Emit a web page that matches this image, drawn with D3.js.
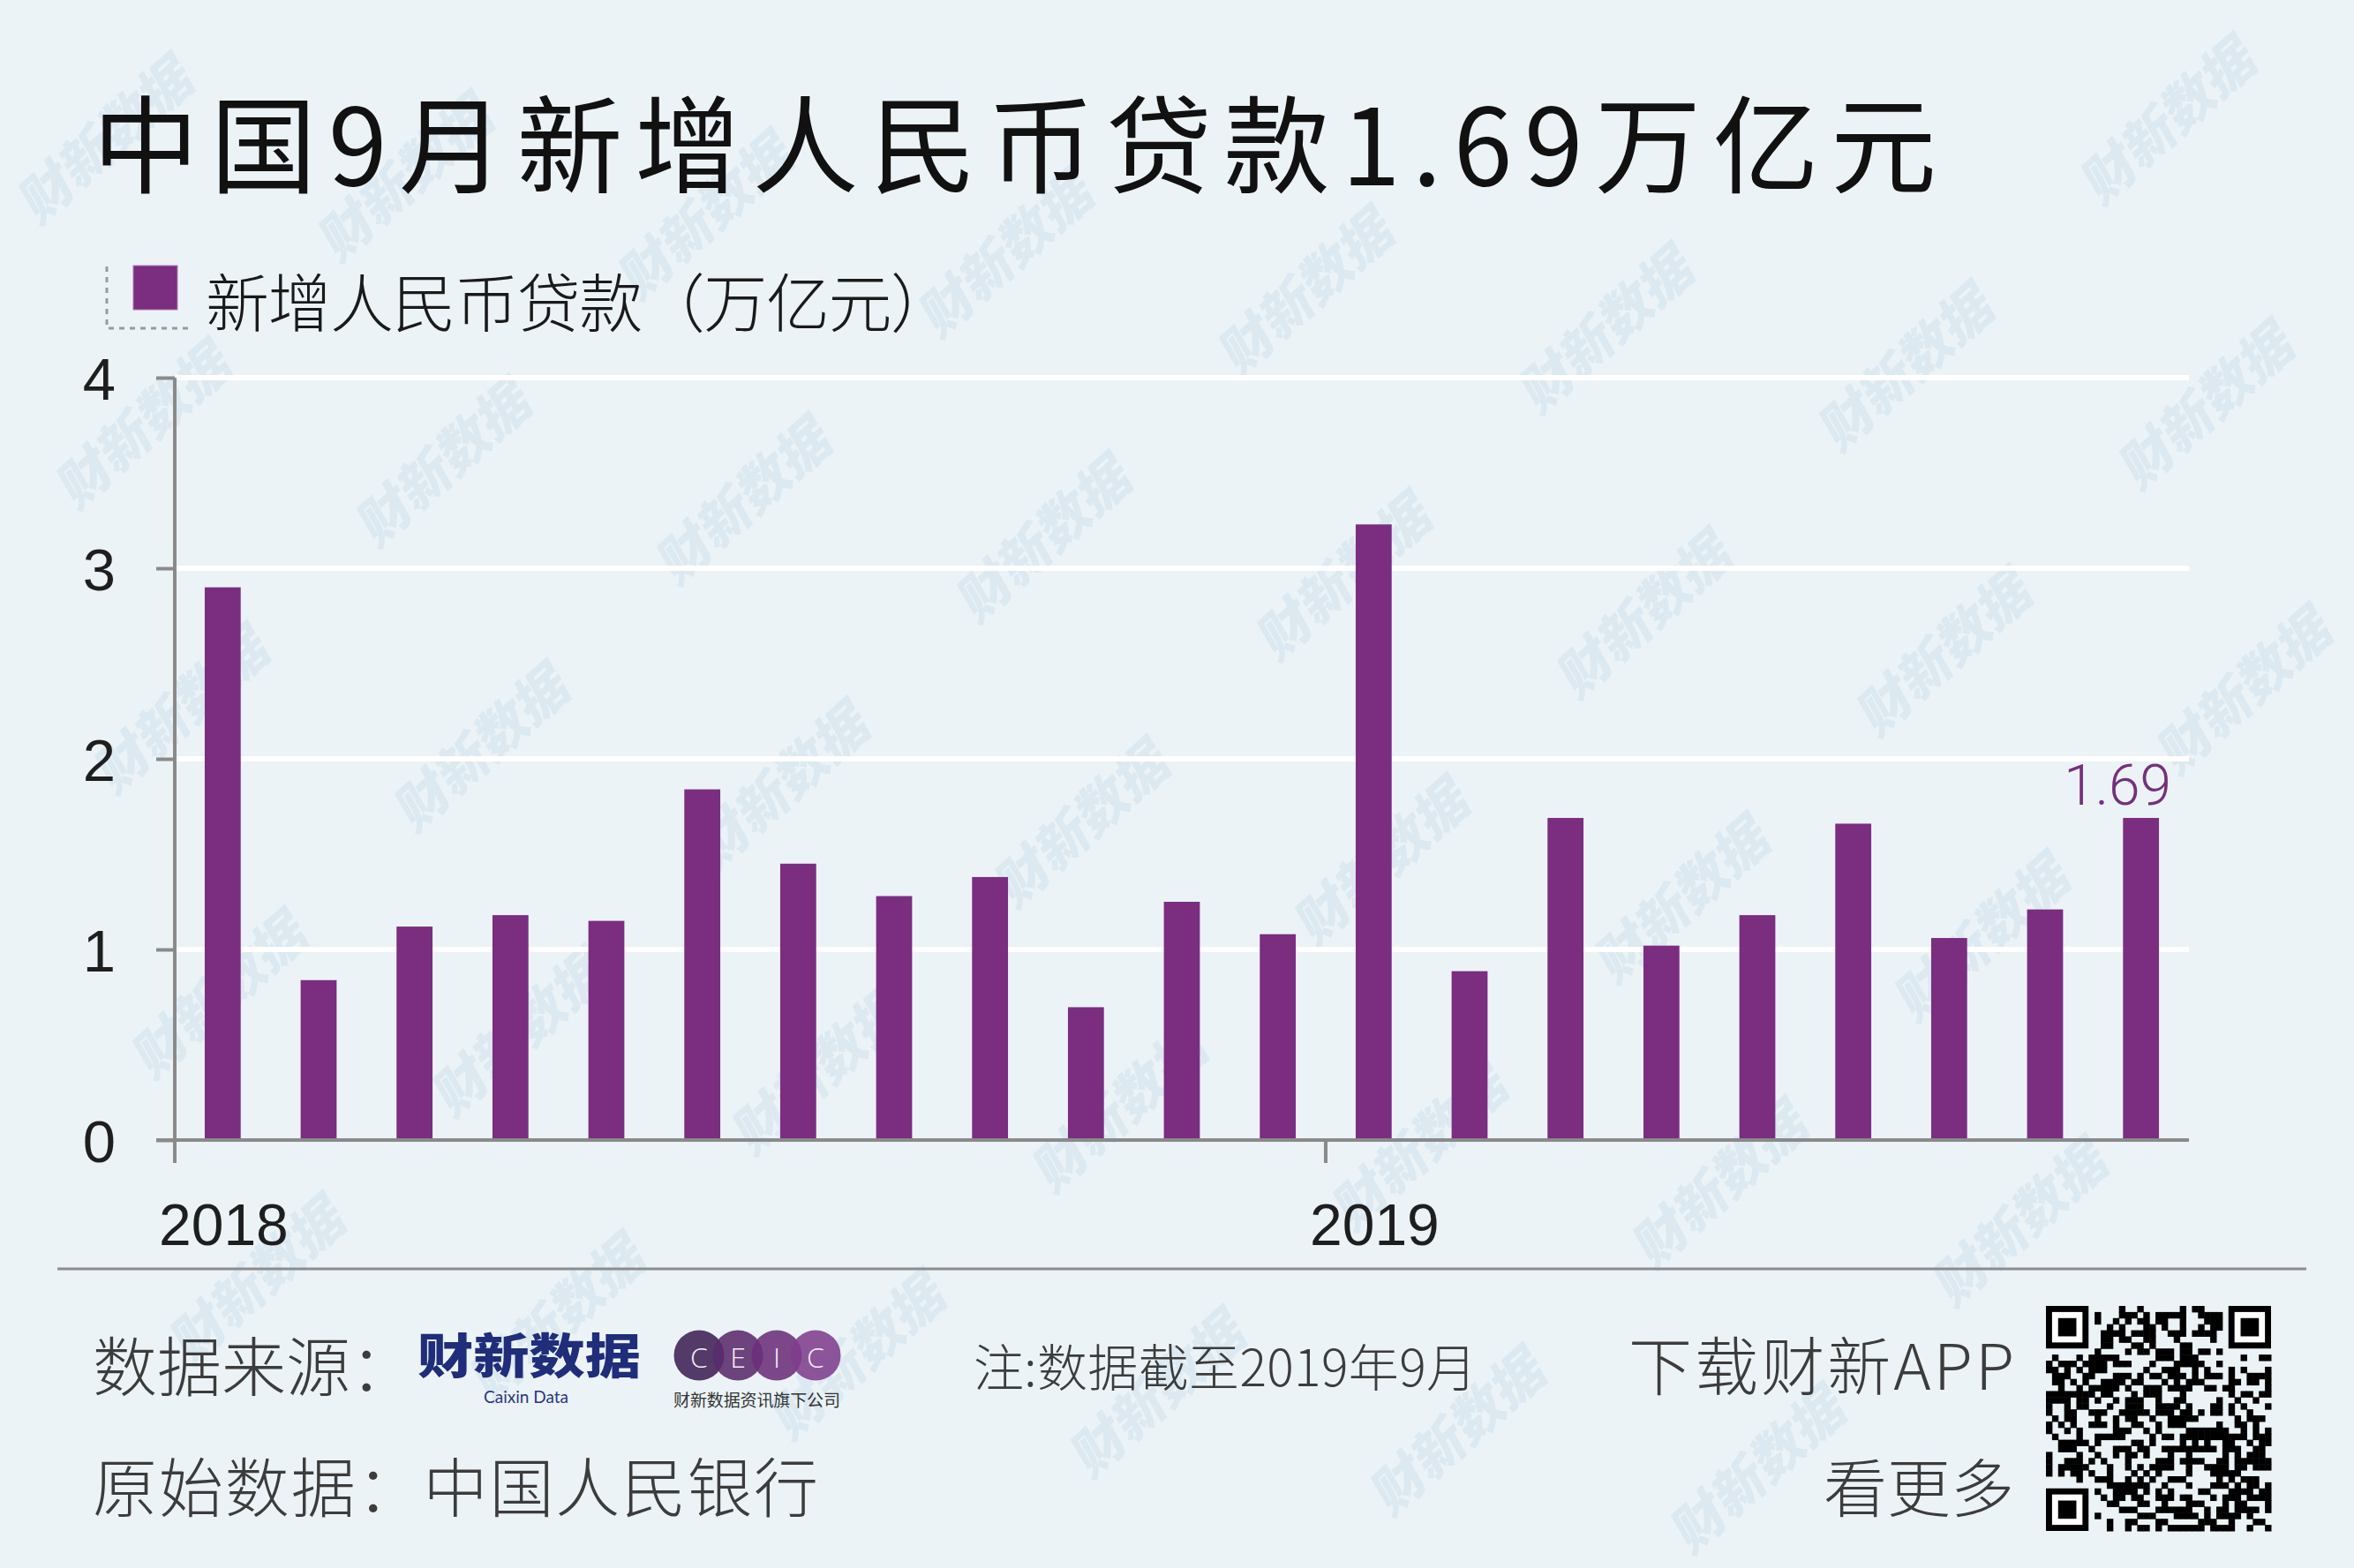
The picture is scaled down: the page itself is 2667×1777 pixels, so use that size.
<!DOCTYPE html>
<html>
<head>
<meta charset="utf-8">
<script src="https://cdn.jsdelivr.net/npm/d3@7/dist/d3.min.js"></script>
<style>
  html, body { margin: 0; padding: 0; background: #ebf3f7; }
  svg { display: block; }
</style>
</head>
<body>
<svg id="chart" width="2667" height="1777"></svg>
<script>
// ---------- data ----------
const months = ["2018-01","2018-02","2018-03","2018-04","2018-05","2018-06","2018-07","2018-08","2018-09","2018-10","2018-11","2018-12",
                "2019-01","2019-02","2019-03","2019-04","2019-05","2019-06","2019-07","2019-08","2019-09"];
const loans = [2.90, 0.839, 1.12, 1.18, 1.15, 1.84, 1.45, 1.28, 1.38, 0.697, 1.25, 1.08,
               3.23, 0.886, 1.69, 1.02, 1.18, 1.66, 1.06, 1.21, 1.69];
const yTicks = [0, 1, 2, 3, 4];
const yearTicks = [{month: "2018-01", label: "2018"}, {month: "2019-01", label: "2019"}];
const titleText = "中国9月新增人民币贷款1.69万亿元";
const legendText = "新增人民币贷款（万亿元）";
const lastLabel = "1.69";

const CJK = "'Noto Sans CJK SC', 'Noto Sans', sans-serif";
const LAT = "'Liberation Sans', Arial, sans-serif";
const svg = d3.select("#chart");

svg.append("rect").attr("width", 2667).attr("height", 1777).attr("fill", "#ebf3f7");

// ---------- watermarks (decorative, kept fully inside the canvas) ----------
const wm = svg.append("g").attr("fill", "#c9dcea").attr("fill-opacity", 0.42);
for (let i = -3; i < 10; i++) {
  for (let j = -2; j < 7; j++) {
    const cx = 162 + i * 340 + j * 43;
    const cy = 476 + i * 43 + j * 323;
    if (cx < 115 || cx > 2550 || cy < 105 || cy > 1670) continue;
    wm.append("text")
      .attr("transform", `translate(${cx},${cy}) rotate(-42) skewX(-12)`)
      .attr("text-anchor", "middle").attr("dominant-baseline", "central")
      .attr("font-family", CJK).attr("font-weight", 900).attr("font-size", 60)
      .text("财新数据");
  }
}

// ---------- scales ----------
const x = d3.scaleBand().domain(months).range([198, 2480]).paddingInner(0.625).paddingOuter(0.3125);
const y = d3.scaleLinear().domain([0, 4]).range([1292, 428]);

// ---------- title ----------
svg.append("text")
  .attr("x", 105).attr("y", 158)
  .attr("dominant-baseline", "central")
  .attr("font-family", CJK).attr("font-size", 120).attr("font-weight", 400)
  .attr("fill", "#111")
  .attr("textLength", 2089).attr("lengthAdjust", "spacing")
  .text(titleText);

// ---------- legend ----------
svg.append("path")
  .attr("d", "M121,302 L121,372 L218,372")
  .attr("fill", "none").attr("stroke", "#9a9a9a").attr("stroke-width", 3)
  .attr("stroke-dasharray", "6,6");
svg.append("rect")
  .attr("x", 151).attr("y", 301).attr("width", 50).attr("height", 50)
  .attr("fill", "#7b2d80").attr("stroke", "#b27ab6").attr("stroke-width", 1);
svg.append("text")
  .attr("x", 233).attr("y", 338)
  .attr("dominant-baseline", "central")
  .attr("font-family", CJK).attr("font-size", 72).attr("font-weight", 300)
  .attr("fill", "#1a1a1a")
  .attr("textLength", 848).attr("lengthAdjust", "spacing")
  .text(legendText);

// ---------- gridlines ----------
svg.append("g")
  .selectAll("line").data(yTicks.filter(d => d > 0)).join("line")
  .attr("x1", 198).attr("x2", 2480)
  .attr("y1", d => y(d)).attr("y2", d => y(d))
  .attr("stroke", "#ffffff").attr("stroke-width", 6);

// ---------- bars ----------
svg.append("g")
  .selectAll("rect").data(months).join("rect")
  .attr("x", (d) => x(d))
  .attr("width", x.bandwidth())
  .attr("y", (d, i) => y(loans[i]))
  .attr("height", (d, i) => y(0) - y(loans[i]))
  .attr("fill", "#7b2d80");

// ---------- y axis ----------
const yAxis = svg.append("g")
  .attr("transform", "translate(198,0)")
  .call(d3.axisLeft(y).tickValues(yTicks).tickSize(21).tickPadding(46).tickFormat(d3.format("d")));
yAxis.select(".domain").remove();
yAxis.selectAll(".tick line").attr("stroke", "#8a8a8a").attr("stroke-width", 4);
yAxis.selectAll(".tick text")
  .attr("font-family", LAT).attr("font-size", 67).attr("fill", "#1e1e1e")
  .attr("dy", "0.36em");

// vertical axis line (extends below baseline)
svg.append("line")
  .attr("x1", 198).attr("x2", 198).attr("y1", y(4)).attr("y2", 1318)
  .attr("stroke", "#8a8a8a").attr("stroke-width", 4);

// ---------- x axis ----------
svg.append("line")
  .attr("x1", 177).attr("x2", 2480).attr("y1", y(0)).attr("y2", y(0))
  .attr("stroke", "#8a8a8a").attr("stroke-width", 4);

const gap = x.step() - x.bandwidth();
const yearX = d => d.month === months[0] ? 198 : x(d.month) - gap / 2;
svg.append("g")
  .selectAll("line").data(yearTicks.slice(1)).join("line")
  .attr("x1", d => yearX(d)).attr("x2", d => yearX(d))
  .attr("y1", y(0)).attr("y2", 1318)
  .attr("stroke", "#8a8a8a").attr("stroke-width", 4);
svg.append("g")
  .selectAll("text").data(yearTicks).join("text")
  .attr("x", d => yearX(d) - 18)
  .attr("y", 1411)
  .attr("font-family", LAT).attr("font-size", 66).attr("fill", "#1e1e1e")
  .text(d => d.label);

// ---------- last value label ----------
svg.append("text")
  .attr("x", x(months[months.length - 1]) + x.bandwidth() + 14)
  .attr("y", 912)
  .attr("text-anchor", "end")
  .attr("font-family", "Roboto, sans-serif").attr("font-weight", 300).attr("font-size", 64)
  .attr("fill", "#74307d")
  .text(lastLabel);

// ---------- footer ----------
svg.append("line")
  .attr("x1", 65).attr("x2", 2613).attr("y1", 1438).attr("y2", 1438)
  .attr("stroke", "#8c8c8c").attr("stroke-width", 3);

const foot = svg.append("g").attr("font-family", CJK).attr("font-weight", 300).attr("fill", "#3c3c3c");
foot.append("text").attr("x", 105).attr("y", 1544).attr("dominant-baseline", "central")
  .attr("font-size", 73).text("数据来源：");
foot.append("text").attr("x", 105).attr("y", 1681).attr("dominant-baseline", "central")
  .attr("font-size", 73).attr("textLength", 822).attr("lengthAdjust", "spacing").text("原始数据：中国人民银行");
foot.append("text").attr("x", 1103).attr("y", 1546).attr("dominant-baseline", "central")
  .attr("font-size", 57).attr("textLength", 570).attr("lengthAdjust", "spacing").text("注:数据截至2019年9月");
foot.append("text").attr("x", 1845).attr("y", 1543).attr("dominant-baseline", "central")
  .attr("font-size", 72).attr("textLength", 437).attr("lengthAdjust", "spacing").text("下载财新APP");
foot.append("text").attr("x", 2282).attr("y", 1681).attr("dominant-baseline", "central")
  .attr("text-anchor", "end").attr("font-size", 72).text("看更多");

// Caixin Data logo
svg.append("text").attr("x", 473).attr("y", 1533).attr("dominant-baseline", "central")
  .attr("font-family", CJK).attr("font-weight", 900).attr("font-size", 54)
  .attr("fill", "#1f2d7a").attr("textLength", 253).attr("lengthAdjust", "spacingAndGlyphs")
  .text("财新数据");
svg.append("text").attr("x", 596).attr("y", 1590).attr("text-anchor", "middle")
  .attr("font-family", "Lato, 'Open Sans', sans-serif").attr("font-size", 19).attr("fill", "#2a3680")
  .text("Caixin Data");

// CEIC logo
const ceicColors = ["#3e2054", "#5a2a6c", "#6b2f7a", "#7f3d8c"];
const ceicLetters = ["C", "E", "I", "C"];
const ceic = svg.append("g");
ceicColors.forEach((c, i) => {
  ceic.append("circle").attr("cx", 792 + i * 44).attr("cy", 1536).attr("r", 28.5)
    .attr("fill", c).attr("fill-opacity", 0.88);
});
ceicLetters.forEach((l, i) => {
  ceic.append("text").attr("x", 792 + i * 44).attr("y", 1537).attr("text-anchor", "middle")
    .attr("dominant-baseline", "central")
    .attr("font-family", "'Open Sans', sans-serif").attr("font-weight", 300).attr("font-size", 32)
    .attr("fill", "#f4eef6").text(l);
});
svg.append("text").attr("x", 763).attr("y", 1585).attr("dominant-baseline", "central")
  .attr("font-family", CJK).attr("font-size", 19).attr("fill", "#333")
  .attr("textLength", 189).attr("lengthAdjust", "spacing").text("财新数据资讯旗下公司");

// QR code (decorative, deterministic pattern)
const qr = svg.append("g").attr("transform", "translate(2318,1480)");
const N = 37, m = 255 / N;
function inFinder(r, c) {
  const f = (r0, c0) => r >= r0 && r < r0 + 8 && c >= c0 && c < c0 + 8;
  return f(0, 0) || f(0, N - 8) || f(N - 8, 0);
}
function hashBit(r, c) {
  let h = (r * 73856093) ^ (c * 19349663) ^ 0x5bd1e995;
  h = Math.imul(h ^ (h >>> 15), 0x2c1b3c6d);
  h = Math.imul(h ^ (h >>> 12), 0x297a2d39);
  h ^= h >>> 15;
  return (h & 7) < 4;
}
const cells = [];
for (let r = 0; r < N; r++) for (let c = 0; c < N; c++) {
  if (inFinder(r, c)) continue;
  if (hashBit(r, c)) cells.push([r, c]);
}
qr.selectAll("rect.cell").data(cells).join("rect").attr("class", "cell")
  .attr("x", d => d[1] * m).attr("y", d => d[0] * m)
  .attr("width", m + 0.5).attr("height", m + 0.5).attr("fill", "#000");
[[0, 0], [0, N - 7], [N - 7, 0]].forEach(([r, c]) => {
  qr.append("rect").attr("x", c * m).attr("y", r * m).attr("width", 7 * m).attr("height", 7 * m).attr("fill", "#000");
  qr.append("rect").attr("x", (c + 1) * m).attr("y", (r + 1) * m).attr("width", 5 * m).attr("height", 5 * m).attr("fill", "#fff");
  qr.append("rect").attr("x", (c + 2) * m).attr("y", (r + 2) * m).attr("width", 3 * m).attr("height", 3 * m).attr("fill", "#000");
});
</script>
</body>
</html>
